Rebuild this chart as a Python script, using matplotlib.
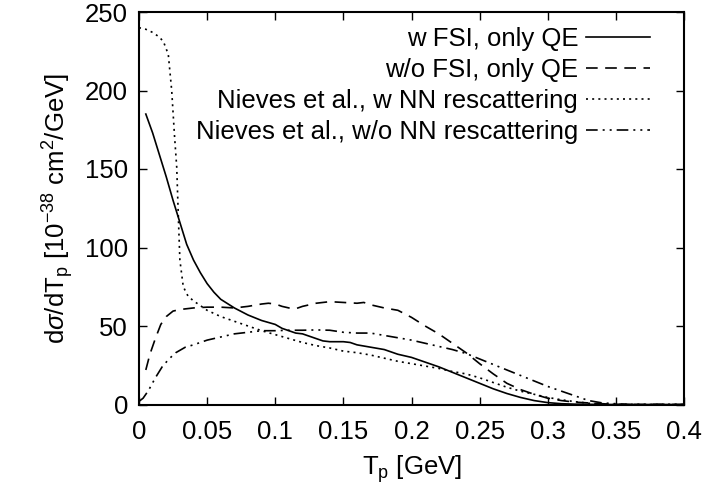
import matplotlib
matplotlib.use("Agg")
import matplotlib.pyplot as plt
import numpy as np

plt.rcParams['font.family'] = ['Liberation Sans', 'DejaVu Sans']
plt.rcParams['mathtext.fontset'] = 'custom'
plt.rcParams['mathtext.rm'] = 'Liberation Sans'
plt.rcParams['mathtext.it'] = 'Liberation Sans:italic'

# w FSI, only QE
t_fsi = [0.005, 0.01, 0.015, 0.02, 0.025, 0.03, 0.035, 0.04, 0.045, 0.05, 0.055, 0.06,
         0.07, 0.08, 0.09, 0.1, 0.105, 0.11, 0.115, 0.12, 0.125, 0.13, 0.135, 0.14, 0.15,
         0.155, 0.16, 0.17, 0.18, 0.19, 0.2, 0.21, 0.22, 0.23, 0.24, 0.25, 0.26, 0.27,
         0.28, 0.29, 0.3, 0.31, 0.32, 0.33, 0.34, 0.35, 0.4]
v_fsi = [185, 173, 159, 145, 130, 116, 102, 92, 84, 77, 71.5, 67,
         61.5, 57, 53.5, 51, 48.5, 47, 45.5, 45, 43.5, 42, 40.5, 40, 40,
         39.5, 38, 36.5, 35, 32, 30, 27, 24, 20.5, 17, 13.5, 10, 7,
         4.5, 2.5, 1.2, 0.5, 0.2, 0.1, 0, 0, 0]

# w/o FSI, only QE
t_nofsi = [0.005, 0.008, 0.012, 0.016, 0.02, 0.025, 0.03, 0.04, 0.05, 0.06, 0.07, 0.08,
           0.09, 0.095, 0.1, 0.105, 0.11, 0.115, 0.12, 0.13, 0.14, 0.15, 0.16, 0.165,
           0.17, 0.18, 0.19, 0.2, 0.21, 0.22, 0.23, 0.24, 0.25, 0.26, 0.27, 0.28, 0.29,
           0.3, 0.31, 0.32, 0.33, 0.34, 0.35, 0.4]
v_nofsi = [22, 32, 42, 51, 56, 59.5, 60.5, 61.5, 62, 62, 61.5, 62.5,
           64, 64.5, 64, 62.5, 61.5, 61, 62.5, 64.5, 65.5, 65, 64.5, 65,
           63.5, 61.5, 60, 55.5, 50, 45, 39, 33, 26, 19.5, 13.5, 9.5, 6.5,
           4, 2.5, 1.5, 1, 0.5, 0, 0]

# Nieves et al., w NN rescattering
t_nwnn = [0.0, 0.005, 0.01, 0.015, 0.018, 0.0215, 0.024, 0.026, 0.0277, 0.0289, 0.030,
          0.0325, 0.036, 0.04, 0.05, 0.06, 0.07, 0.08, 0.09, 0.1, 0.11, 0.12, 0.13, 0.14,
          0.15, 0.16, 0.17, 0.18, 0.19, 0.2, 0.21, 0.22, 0.23, 0.24, 0.25, 0.26, 0.27,
          0.28, 0.29, 0.3, 0.31, 0.32, 0.33, 0.34, 0.35, 0.4]
v_nwnn = [240, 239, 237, 234, 231, 223, 200, 172, 151, 119, 92,
          75, 69, 66, 60, 56, 53, 50, 47, 44.5, 42, 39.5, 37.5, 36,
          34, 33, 31.5, 29.5, 27.5, 26, 24.5, 23, 21, 19.5, 17, 14, 11,
          8.5, 6.5, 4.5, 3, 1.8, 0.8, 0.3, 0, 0]

# Nieves et al., w/o NN rescattering
t_nwonn = [0.0, 0.003, 0.007, 0.012, 0.017, 0.022, 0.027, 0.034, 0.04, 0.05, 0.06, 0.07,
           0.08, 0.09, 0.1, 0.11, 0.12, 0.13, 0.14, 0.15, 0.16, 0.17, 0.18, 0.19, 0.2,
           0.21, 0.22, 0.23, 0.24, 0.25, 0.26, 0.27, 0.28, 0.29, 0.3, 0.31, 0.32, 0.33,
           0.34, 0.35, 0.36, 0.4]
v_nwonn = [2, 4, 9, 17, 24, 29, 33, 36.5, 38, 41, 43, 45,
           46, 47, 47, 47.3, 47.3, 47.5, 47.3, 46, 45.5, 45.5, 44, 42.5, 41,
           39, 37, 35, 32.5, 29, 25.5, 22, 18.5, 15, 11.5, 8.5, 5.5, 2.5,
           1, 0.5, 0, 0]

labels = ["w FSI, only QE", "w/o FSI, only QE",
          "Nieves et al., w NN rescattering", "Nieves et al., w/o NN rescattering"]
xticks = [0, 0.05, 0.1, 0.15, 0.2, 0.25, 0.3, 0.35, 0.4]
xticklabels = ["0", "0.05", "0.1", "0.15", "0.2", "0.25", "0.3", "0.35", "0.4"]
yticks = [0, 50, 100, 150, 200, 250]

fs = 18.5
fig = plt.figure(figsize=(7.07, 4.93), dpi=100)
ax = fig.add_axes([139/707, 1 - 404.5/493, 545/707, 392.5/493])

lw = 1.2
ax.plot(t_fsi, v_fsi, color='black', lw=lw, linestyle='-', label=labels[0])
ax.plot(t_nofsi, v_nofsi, color='black', lw=lw, linestyle=(0, (7, 4.5)), label=labels[1])
ax.plot(t_nwnn, v_nwnn, color='black', lw=lw, linestyle=(0, (1.2, 2.5)), label=labels[2])
ax.plot(t_nwonn, v_nwonn, color='black', lw=lw, linestyle=(0, (7, 3, 1.2, 3, 1.2, 3)), label=labels[3])

ax.set_xlim(0, 0.4)
ax.set_ylim(0, 250)
ax.set_xticks(xticks)
ax.set_xticklabels(xticklabels)
ax.set_yticks(yticks)
ax.tick_params(direction='in', top=True, right=True, length=6, width=1.0,
               labelsize=fs, pad=8)
ax.tick_params(axis='x', pad=11)
for s in ax.spines.values():
    s.set_linewidth(1.5)

ax.set_xlabel(r'T$_\mathrm{p}$ [GeV]', fontsize=fs, labelpad=7)
ax.set_ylabel(r'd$\sigma$/dT$_\mathrm{p}$ [10$^{-38}$ cm$^2$/GeV]', fontsize=fs, labelpad=6)

leg = ax.legend(loc='upper right', bbox_to_anchor=(0.9376, 0.962), frameon=False,
                markerfirst=False, fontsize=fs, handlelength=2.5, handletextpad=0.3,
                labelspacing=0.27, borderpad=0, borderaxespad=0)

fig.savefig('out.png', dpi=100)
